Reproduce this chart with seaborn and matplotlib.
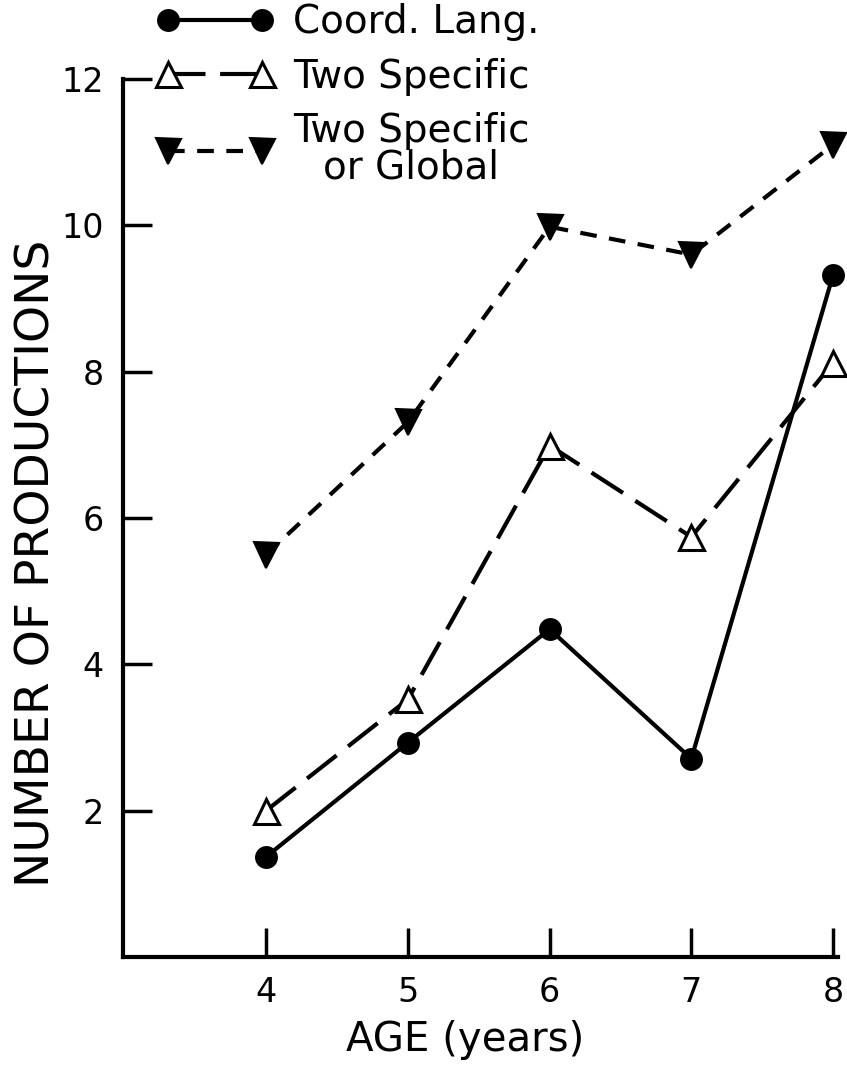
import matplotlib
matplotlib.use('Agg')
import matplotlib.pyplot as plt
import seaborn as sns

# values
ages = [4, 5, 6, 7, 8]
coord_lang = [1.37, 2.93, 4.48, 2.71, 9.32]
two_specific = [2.0, 3.52, 6.99, 5.74, 8.12]
specific_or_global = [5.50, 7.31, 9.98, 9.60, 11.1]

labels = ['Coord. Lang.', 'Two Specific', 'Two Specific\nor Global']
y_ticks = [2, 4, 6, 8, 10, 12]


def main():
    sns.set_style('white')
    plt.rcParams['font.family'] = ['DejaVu Sans']
    plt.rcParams['text.color'] = 'black'
    plt.rcParams['axes.labelcolor'] = 'black'

    fig = plt.figure(figsize=(8.47, 10.67), dpi=100)
    ax = fig.add_axes([0.1452, 0.1031, 0.8442, 0.8229])

    lw = 3
    sns.lineplot(x=ages, y=coord_lang, ax=ax, color='black', lw=lw,
                 marker='o', ms=15, markerfacecolor='black',
                 markeredgecolor='black', markeredgewidth=1.5,
                 linestyle='-', label=labels[0], clip_on=False)
    sns.lineplot(x=ages, y=two_specific, ax=ax, color='black', lw=lw,
                 marker='^', ms=18, markerfacecolor='white',
                 markeredgecolor='black', markeredgewidth=2.2,
                 linestyle=(0, (9, 3.5)), label=labels[1], clip_on=False)
    sns.lineplot(x=ages, y=specific_or_global, ax=ax, color='black', lw=lw,
                 marker='v', ms=18, markerfacecolor='black',
                 markeredgecolor='black', markeredgewidth=1.5,
                 linestyle=(0, (4, 3)), label=labels[2], clip_on=False)

    ax.set_xlim(2.99, 8.035)
    ax.set_ylim(0, 12)
    ax.set_xticks(ages)
    ax.set_yticks(y_ticks)

    sns.despine(ax=ax)
    for side in ['left', 'bottom']:
        ax.spines[side].set_linewidth(3)
        ax.spines[side].set_color('black')

    ax.tick_params(axis='both', direction='in', length=21, width=2.5,
                   colors='black', labelsize=24, bottom=True, left=True)
    ax.tick_params(axis='x', pad=14)
    ax.tick_params(axis='y', pad=14)

    ax.set_xlabel('AGE (years)', fontsize=29)
    ax.set_ylabel('NUMBER OF PRODUCTIONS', fontsize=34)
    ax.xaxis.set_label_coords(0.478, -0.095)
    ax.yaxis.set_label_coords(-0.12, 0.448)
    ax.xaxis.label.set_va('center')
    ax.yaxis.label.set_va('center')

    handles = ax.lines[:3]
    leg = ax.legend(handles, labels, loc='upper left',
                    bbox_to_anchor=(0.185, 0.997), bbox_transform=fig.transFigure,
                    frameon=False, fontsize=28, numpoints=2, handlelength=3.0,
                    handletextpad=0.5, labelspacing=0.42, borderpad=0,
                    borderaxespad=0)
    for t in leg.get_texts():
        t.set_multialignment('center')
        t.set_linespacing(0.95)
        t.set_color('black')

    fig.savefig('out.png', dpi=100)


if __name__ == "__main__":
    main()
